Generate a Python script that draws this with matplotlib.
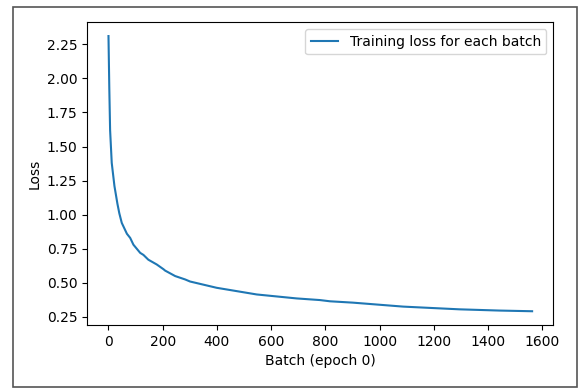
import matplotlib
matplotlib.use("Agg")
import matplotlib.pyplot as plt
from matplotlib.patches import Rectangle

batch = [0, 3, 6, 12, 22, 33, 40, 49, 68, 80, 92, 117, 129, 147, 178, 203, 209,
         246, 283, 301, 399, 547, 694, 780, 817, 902, 1087, 1295, 1442, 1563]
loss = [2.31, 1.93, 1.62, 1.38, 1.21, 1.08, 1.01, 0.94, 0.86, 0.83, 0.78, 0.72,
        0.705, 0.67, 0.635, 0.60, 0.59, 0.55, 0.525, 0.51, 0.464, 0.415, 0.386,
        0.374, 0.365, 0.355, 0.326, 0.306, 0.297, 0.292]

W, H = 585, 392
fig = plt.figure(figsize=(W / 100, H / 100), dpi=100)
ax = fig.add_axes([87.3 / W, 1 - 325 / H, (553.3 - 87.3) / W, (325 - 22.3) / H])
ax.plot(batch, loss, color="#1f77b4", linewidth=1.5, label="Training loss for each batch")
ax.set_xlabel("Batch (epoch 0)")
ax.set_ylabel("Loss")
ax.set_xticks([0, 200, 400, 600, 800, 1000, 1200, 1400, 1600])
ax.set_yticks([0.25, 0.5, 0.75, 1.0, 1.25, 1.5, 1.75, 2.0, 2.25])
ax.legend(loc="upper right")

fig.patches.append(Rectangle((12.7 / W, 1 - 387.3 / H), (577 - 12.7) / W, (387.3 - 7.3) / H,
                             transform=fig.transFigure, fill=False,
                             edgecolor="#555555", linewidth=1.2))
fig.savefig("out.png", dpi=100)
